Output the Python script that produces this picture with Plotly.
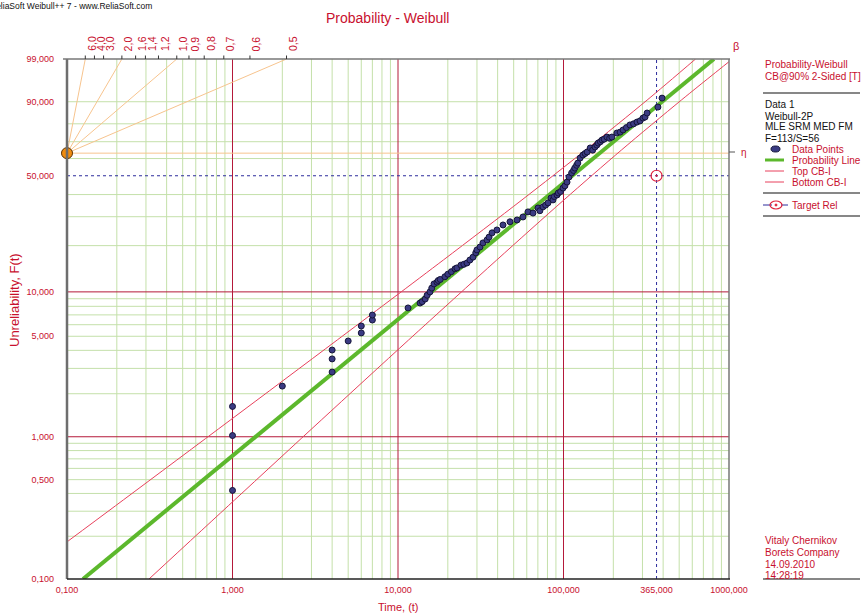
import numpy as np
import plotly.graph_objects as go

# ---------------- data ----------------
time_pts = [1.0, 1.0, 1.0, 2.0, 4.0, 4.0, 4.0, 5.0, 6.0, 6.0, 7.0, 7.0,
            11.5, 13.6, 14.0, 14.6, 15.0, 15.6, 16.0, 16.5, 17.2, 17.5, 18.0,
            19.2, 20.0, 21.0, 22.1, 22.7, 24.0, 25.0, 26.1, 27.2, 28.4, 29.5,
            30.0, 31.3, 32.6, 34.5, 35.5, 37.0, 39.6, 43.1, 47.5, 52.4, 56.9,
            61.0, 65.4, 70.1, 72.0, 75.2, 78.0, 80.6, 84.0, 86.4, 88.0, 91.4,
            93.0, 96.0, 99.3, 102.0, 105.0, 108.0, 112.0, 115.0, 117.0, 120.0,
            122.0, 126.0, 131.0, 135.0, 139.0, 145.0, 150.0, 155.0, 159.0,
            162.0, 167.0, 171.0, 176.0, 183.0, 190.0, 196.0, 210.0, 220.0,
            229.0, 240.0, 252.0, 265.0, 278.0, 290.0, 302.0, 311.0, 320.0,
            372.0, 394.0]
unrel_pts = [0.42, 1.02, 1.63, 2.26, 2.83, 3.49, 4.02, 4.64, 5.27, 5.88, 6.46, 6.98,
             7.80, 8.42, 8.60, 8.96, 9.50, 10.0, 10.6, 11.3, 11.6, 11.9, 12.1,
             12.6, 13.1, 13.6, 14.2, 14.4, 15.0, 15.2, 15.5, 16.2, 16.9, 18.0,
             18.8, 19.6, 20.8, 21.7, 22.6, 24.0, 25.0, 26.8, 28.0, 28.7, 29.9,
             32.0, 31.5, 33.7, 32.5, 34.2, 35.0, 36.0, 38.3, 37.4, 39.0, 39.8,
             40.8, 41.5, 43.3, 44.5, 46.5, 49.3, 51.6, 53.0, 54.4, 56.0,
             57.3, 60.3, 62.1, 63.0, 63.9, 66.3, 65.0, 66.9, 68.0,
             69.2, 70.0, 71.0, 71.5, 72.7, 72.0, 72.7, 75.0, 75.5,
             76.7, 78.0, 79.4, 80.0, 80.9, 81.5, 82.9, 83.4, 85.3,
             87.9, 91.3]

fit_t = [0.125, 811.0]          # probability line end points
fit_F = [0.1, 99.0]

cb_F = [0.1, 0.36, 1.31, 4.72, 16.2, 37.4, 65.1, 90.6, 99.0]
cb_top_t = [0.0499, 0.219, 0.971, 4.30, 18.8, 56.1, 136.0, 320.0, 628.0]
cb_bot_t = [0.313, 1.03, 3.44, 11.6, 39.5, 100.6, 224.0, 515.0, 1048.0]

target_t = [365.0]
target_F = [50.0]

eta_t = [0.1]
eta_F = [63.212]

beta_vals = [6.0, 4.0, 3.0, 2.0, 1.6, 1.4, 1.2, 1.0, 0.9, 0.8, 0.7, 0.6, 0.5]
beta_text = ["6,0", "4,0", "3,0", "2,0", "1,6", "1,4", "1,2", "1,0", "0,9", "0,8", "0,7", "0,6", "0,5"]
beta_lines = [6.0, 2.0, 1.0, 0.5]

x_tickvals = [0.1, 1, 10, 100, 365, 1000]
x_ticktext = ["0,100", "1,000", "10,000", "100,000", "365,000", "1000,000"]
y_tickF = [99, 90, 50, 10, 5, 1, 0.5, 0.1]
y_ticktext = ["99,000", "90,000", "50,000", "10,000", "5,000", "1,000", "0,500", "0,100"]

x_minor = [k * 10.0 ** d for d in range(-1, 3) for k in range(2, 10)]
x_major = [1, 10, 100]
y_minorF = [0.2, 0.3, 0.4, 0.5, 0.6, 0.7, 0.8, 0.9, 2, 3, 4, 5, 6, 7, 8, 9,
            20, 30, 40, 60, 70, 80, 90]
y_majorF = [1, 10]

# ---------------- styling ----------------
RED = "#c8102e"
GRIDG = "#c4e0aa"
GRIDR = "#b4193a"
FONT = "Liberation Sans"


def W(F):
    F = np.asarray(F, dtype=float) / 100.0
    return np.log(-np.log(1.0 - F))


XMIN, XMAX = 0.1, 1000.0
WBOT, WTOP = float(W(0.1)), float(W(99.0))

fig = go.Figure()


def vlines(ts):
    xs, ys = [], []
    for t in ts:
        xs += [t, t, None]
        ys += [WBOT, WTOP, None]
    return xs, ys


def hlines(Fs):
    xs, ys = [], []
    for f in Fs:
        w = float(W(f))
        xs += [XMIN, XMAX, None]
        ys += [w, w, None]
    return xs, ys


for xs, ys, col in [(*vlines(x_minor), GRIDG), (*hlines(y_minorF), GRIDG),
                    (*hlines(y_majorF), GRIDR), (*vlines(x_major), GRIDR)]:
    fig.add_trace(go.Scatter(x=xs, y=ys, mode="lines", line=dict(color=col, width=1),
                             hoverinfo="skip", showlegend=False))

# beta scale construction lines from eta point
bx, by = [], []
w_eta = float(W(eta_F[0]))
for b in beta_lines:
    t_end = eta_t[0] * np.exp((WTOP - w_eta) / b)
    bx += [eta_t[0], t_end, None]
    by += [w_eta, WTOP, None]
bx += [eta_t[0], XMAX, None]
by += [w_eta, w_eta, None]
fig.add_trace(go.Scatter(x=bx, y=by, mode="lines", line=dict(color="#f7c48e", width=1),
                         hoverinfo="skip", showlegend=False))

# target reliability dotted lines
fig.add_trace(go.Scatter(x=[XMIN, XMAX, None, target_t[0], target_t[0]],
                         y=[float(W(target_F[0])), float(W(target_F[0])), None, WBOT, WTOP],
                         mode="lines", line=dict(color="#2c2c9c", width=1, dash="dot"),
                         hoverinfo="skip", showlegend=False))

# confidence bounds
for tt in (cb_top_t, cb_bot_t):
    fig.add_trace(go.Scatter(x=tt, y=W(cb_F), mode="lines",
                             line=dict(color="#e8415c", width=1, shape="spline", smoothing=0.8),
                             showlegend=False))

# probability line
fig.add_trace(go.Scatter(x=fit_t, y=W(fit_F), mode="lines",
                         line=dict(color="#5cb82c", width=4), showlegend=False))

# data points
fig.add_trace(go.Scatter(x=time_pts, y=W(unrel_pts), mode="markers",
                         marker=dict(size=6, color="#3b3b82", line=dict(color="#15153a", width=1)),
                         showlegend=False))

# eta point
fig.add_trace(go.Scatter(x=eta_t, y=W(eta_F), mode="markers", cliponaxis=False,
                         marker=dict(size=11, color="#f08c10", line=dict(color="#5a3000", width=1)),
                         showlegend=False))

# target marker
fig.add_trace(go.Scatter(x=target_t, y=W(target_F), mode="markers",
                         marker=dict(size=11, symbol="circle-open-dot", color="#e0203a",
                                     line=dict(width=1.2)),
                         showlegend=False))


def px(x):
    return (x - 67) / 662.0


def py(y):
    return (579 - y) / 520.0


ann = []
shapes = []

# beta scale labels & ticks
for b, txt_ in zip(beta_vals, beta_text):
    t_b = eta_t[0] * np.exp((WTOP - w_eta) / b)
    ann.append(dict(x=float(np.log10(t_b)), y=py(53), xref="x", yref="paper", text=txt_,
                    textangle=-90, showarrow=False, xanchor="left", yanchor="bottom",
                    xshift=-2, font=dict(family=FONT, size=10.5, color=RED)))
    ann.append(dict(x=float(np.log10(t_b)), y=WTOP, xref="x", yref="y", text="",
                    showarrow=True, arrowhead=0, arrowwidth=1, arrowcolor="#333",
                    ax=0, ay=-5, axref="pixel", ayref="pixel"))


def txt(x, y, s, color=RED, size=10, anchor="left", **kw):
    ann.append(dict(x=px(x), y=py(y), xref="paper", yref="paper", text=s, showarrow=False,
                    xanchor=anchor, yanchor="middle", font=dict(family=FONT, size=size, color=color), **kw))


txt(-12, 6, "ReliaSoft Weibull++ 7 - www.ReliaSoft.com", color="#111", size=8.5)
txt(387, 18, "Probability - Weibull", size=14, anchor="center")
txt(731, 46, "β", size=11)
txt(739, 152, "η", size=10)
txt(398, 607, "Time, (t)", size=11, anchor="center")
ann.append(dict(x=px(14), y=py(300), xref="paper", yref="paper", text="Unreliability, F(t)",
                textangle=-90, showarrow=False, xanchor="center", yanchor="middle",
                font=dict(family=FONT, size=13, color=RED)))

LX = 763
txt(LX, 65, "Probability-Weibull")
txt(LX, 76, "CB@90% 2-Sided [T]")
txt(LX, 104, "Data 1", color="#111")
txt(LX, 116, "Weibull-2P", color="#111")
txt(LX, 127, "MLE SRM MED FM", color="#111")
txt(LX, 138, "F=113/S=56", color="#111")
txt(790, 149, "Data Points")
txt(790, 160, "Probability Line")
txt(790, 171, "Top CB-I")
txt(790, 182, "Bottom CB-I")
txt(790, 205, "Target Rel")
txt(LX, 540, "Vitaly Chernikov")
txt(LX, 552, "Borets Company")
txt(LX, 564, "14.09.2010")
txt(LX, 575, "14:28:19")


def pline(x0, y0, x1, y1, color="#111", width=1, dash=None):
    shapes.append(dict(type="line", xref="paper", yref="paper", x0=px(x0), y0=py(y0),
                       x1=px(x1), y1=py(y1), line=dict(color=color, width=width, dash=dash)))


for yy in (93, 193, 216, 579):
    pline(LX, yy, 860, yy, width=1.2)
pline(765, 160, 784, 160, color="#5cb82c", width=3)
pline(765, 171, 784, 171, color="#e8415c", width=1)
pline(765, 182, 784, 182, color="#e8415c", width=1)
pline(763, 205, 788, 205, color="#2c2c9c", width=1, dash="dash")
shapes.append(dict(type="circle", xref="paper", yref="paper", x0=px(771), x1=px(780),
                   y0=py(152), y1=py(146), fillcolor="#3b3b82", line=dict(color="#15153a", width=1)))
shapes.append(dict(type="circle", xref="paper", yref="paper", x0=px(770), x1=px(782),
                   y0=py(209), y1=py(201), line=dict(color="#e0203a", width=1.2)))
shapes.append(dict(type="circle", xref="paper", yref="paper", x0=px(775), x1=px(777),
                   y0=py(206), y1=py(204), fillcolor="#e0203a", line=dict(color="#e0203a", width=1)))

# frame
pline(67, 59, 67, 579, color="#6e6e6e", width=2.5)
pline(63, 59, 730, 59, color="#777", width=1.5)
pline(729, 59, 729, 579, color="#777", width=1.5)
pline(67, 579, 730, 579, color="#222", width=1.5)
pline(729, 152, 735, 152, color="#555", width=1)

# keep the major decade line at t = 100 red (paper x = 0.75 on the 0.1..1000 log range)
shapes.append(dict(type="line", xref="paper", yref="paper", x0=0.75, x1=0.75, y0=0, y1=1,
                   layer="below", line=dict(color=GRIDR, width=1)))

fig.update_layout(
    width=862, height=616,
    margin=dict(l=67, r=133, t=59, b=37),
    paper_bgcolor="white", plot_bgcolor="white",
    showlegend=False, hovermode=False,
    annotations=ann, shapes=shapes,
    xaxis=dict(type="log", range=[np.log10(XMIN), np.log10(XMAX)], showgrid=False,
               zeroline=False, showline=False, tickvals=x_tickvals, ticktext=x_ticktext,
               tickfont=dict(family=FONT, size=9, color=RED), ticks="",
               ticklabelstandoff=4, showspikes=False),
    yaxis=dict(range=[WBOT, WTOP], showgrid=False, zeroline=False, showline=False,
               tickvals=[float(W(f)) for f in y_tickF], ticktext=y_ticktext,
               tickfont=dict(family=FONT, size=9, color=RED), ticks="",
               ticklabelstandoff=12, showspikes=False),
)

fig.write_html("out.html", post_script="document.body.style.margin='0';",
               config={"displayModeBar": False})
